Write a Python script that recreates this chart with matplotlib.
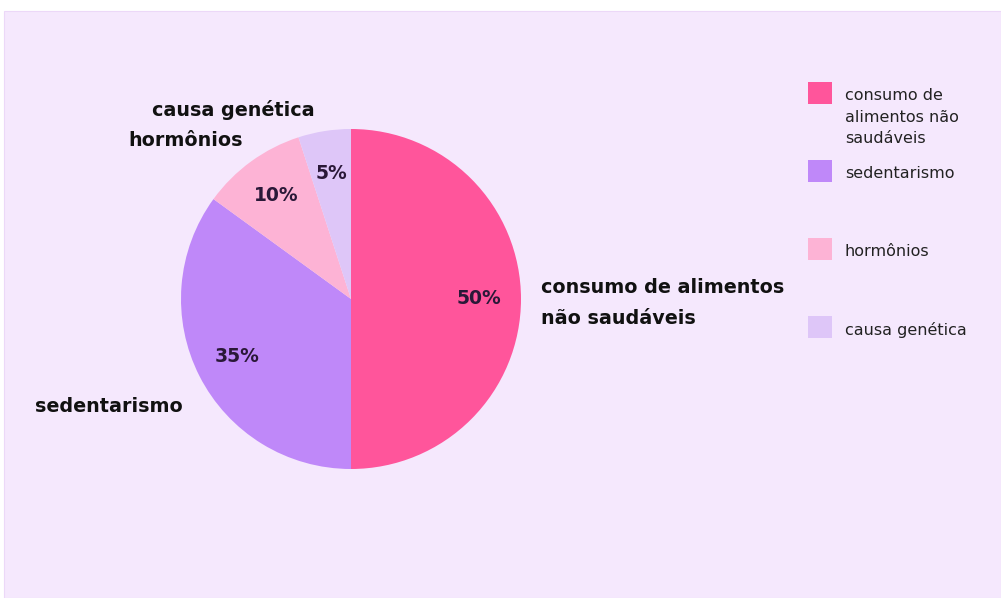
import matplotlib.pyplot as plt
from matplotlib.patches import Rectangle

plt.rcParams['font.family'] = 'DejaVu Sans'

labels = ['consumo de alimentos\nnão saudáveis', 'sedentarismo', 'hormônios', 'causa genética']
legend_labels = ['consumo de\nalimentos não\nsaudáveis', 'sedentarismo', 'hormônios', 'causa genética']
values = [50, 35, 10, 5]
colors = ['#ff559b', '#bf88f9', '#fdb3d5', '#dec6f8']

W, H = 1001, 598
bg = '#f5e8fd'

fig = plt.figure(figsize=(W / 100, H / 100), dpi=100)
fig.patch.set_facecolor('white')
# lavender panel behind everything
fig.patches.append(Rectangle((4 / W, 0), (W - 4) / W, (H - 11) / H,
                             transform=fig.transFigure, facecolor=bg,
                             edgecolor='#ecd8f8', lw=0.8, zorder=-10))

cx, cy, r = 351, 299, 170
ax = fig.add_axes([(cx - r) / W, (H - cy - r) / H, 2 * r / W, 2 * r / H])
ax.set_facecolor('none')
ax.set_zorder(2)
wedges, texts, autotexts = ax.pie(values, colors=colors, startangle=90, counterclock=False,
                                  autopct='%d%%', pctdistance=0.75,
                                  wedgeprops=dict(linewidth=0))
for t in autotexts:
    t.set_fontsize(13.5)
    t.set_fontweight('bold')
    t.set_color('#2a1838')
ax.set_xlim(-1, 1)
ax.set_ylim(-1, 1)
ax.axis('off')

def px(x, y):
    return x / W, 1 - y / H

# outside labels
label_pos = [(541, 303), (35, 407), (128, 140), (152, 110)]
for lab, (x, y) in zip(labels, label_pos):
    fig.text(*px(x, y), lab, ha='left', va='center', fontsize=13.8,
             fontweight='bold', color='#111111', linespacing=1.75)

# legend
for i, (lab, col) in enumerate(zip(legend_labels, colors)):
    top = 82 + 78 * i
    fig.patches.append(Rectangle(px(808, top + 22), 24 / W, 22 / H,
                                 transform=fig.transFigure, facecolor=col, edgecolor='none'))
    fig.text(*px(845, top + 6), lab, ha='left', va='top', fontsize=11.5,
             color='#222222', linespacing=1.55)

fig.savefig('out.png', dpi=100, facecolor=fig.get_facecolor())
